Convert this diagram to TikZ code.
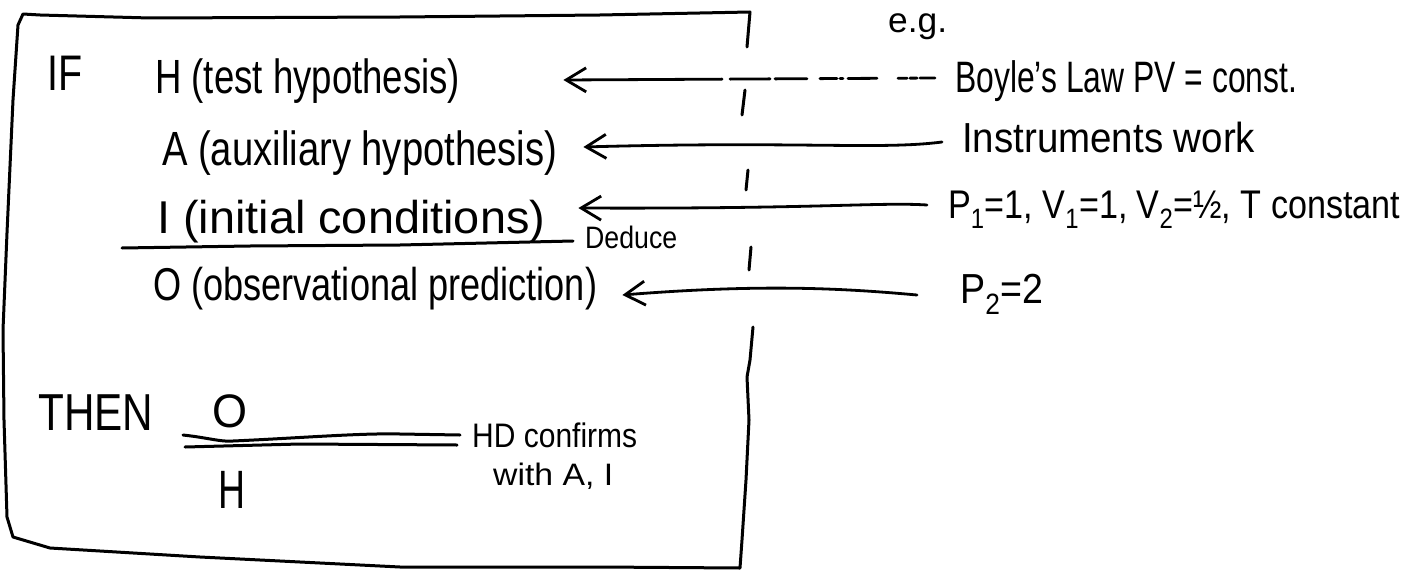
\documentclass[tikz,border=0pt]{standalone}
\usepackage{fontspec}
\setmainfont{Liberation Sans}
\usepackage{graphicx}
\usetikzlibrary{arrows.meta}
% squeeze or stretch a text to a given width, keeping its height
\newcommand\fitw[2]{\resizebox{#1pt}{\height}{#2}}
\newcommand\setsz[1]{\fontsize{#1}{#1}\selectfont}

\begin{document}
\begin{tikzpicture}[x=1pt,y=-1pt,line cap=round,line join=round,
  pen/.style={line width=3pt},
  txt/.style={inner sep=0pt,anchor=base west},
  arr/.style={line width=2.8pt,-{Straight Barb[length=20pt,width=24pt,line width=2.8pt]}}]
\useasboundingbox (0,0) rectangle (1412,578);

% frame round the schema
\draw[pen] (747,47) -- (750,12) -- (600,15) -- (400,17) -- (150,18) -- (40,15) -- (23,14)
  -- (18,25) -- (13,100) -- (7,233) -- (3,330) -- (4,420) -- (7,517) -- (13,537)
  -- (50,548) -- (200,557) -- (400,567) -- (600,567) -- (740,568) -- (742,540)
  -- (746,480) -- (749,420) -- (747,377) -- (750,360) -- (753,327);
\draw[pen] (745,90) -- (742,115);
\draw[pen] (748,170) -- (746,190);
\draw[pen] (751,247) -- (749,270);

% premises
\node[txt,font=\setsz{50}] (if)   at (47,90)  {\fitw{35}{IF}};
\node[txt,font=\setsz{48}] (hyp)  at (155,93) {\fitw{305}{H (test hypothesis)}};
\node[txt,font=\setsz{48}] (aux)  at (162,165) {\fitw{395}{A (auxiliary hypothesis)}};
\node[txt,font=\setsz{46}] (ini)  at (157,233) {\fitw{388}{I (initial conditions)}};
\draw[pen] (122,248) -- (250,246) -- (400,245) -- (573,241);
\node[txt,font=\setsz{31}] (ded)  at (585,248) {\fitw{92}{Deduce}};
\node[txt,font=\setsz{46}] (obs)  at (153,300) {\fitw{444}{O (observational prediction)}};

% conclusion
\node[txt,font=\setsz{52}] (then) at (38,430) {\fitw{115}{THEN}};
\node[inner sep=0pt,anchor=base,font=\setsz{47}] (num) at (230,427) {\fitw{35}{O}};
\node[inner sep=0pt,anchor=base,font=\setsz{54}] (den) at (232,508) {\fitw{27}{H}};
\draw[pen] (183,435) .. controls (210,438) and (220,442) .. (233,441)
  .. controls (300,438) and (360,433) .. (400,434) -- (460,435);
\draw[pen] (185,447) -- (300,444) -- (457,445);
\node[txt,font=\setsz{34}] (hdc)  at (472,447) {\fitw{165}{HD confirms}};
\node[txt,font=\setsz{31}] (wai)  at (493,485) {\fitw{120}{with A, I}};

% example
\node[txt,font=\setsz{35}] (eg)   at (888,32)  {\fitw{59}{e.g.}};
\node[txt,font=\setsz{44}] (boy)  at (955,92)  {\fitw{342}{Boyle's Law PV = const.}};
\node[txt,font=\setsz{42}] (ins)  at (962,152) {\fitw{293}{Instruments work}};
\node[txt,font=\setsz{40}] (pvt)  at (948,218) {\fitw{452}{P\textsubscript{1}=1, V\textsubscript{1}=1, V\textsubscript{2}=\textonehalf, T constant}};
\node[txt,font=\setsz{42}] (p2)   at (960,303) {\fitw{83}{P\textsubscript{2}=2}};

% links from the example to the schema
\draw[arr,dash pattern=on 15pt off 3pt on 7pt off 3pt on 9pt off 21pt on 29pt off 5pt on 3pt off 3pt on 17pt off 13pt on 32pt off 5pt on 40pt off 8pt on 400pt]
  ([shift={(-20,-14)}]boy.base west) -- ([shift={(103,-13)}]hyp.base east);
\draw[arr] ([shift={(-20,-10)}]ins.base west) .. controls (880,150) and (800,141)
  .. ([shift={(26,-18)}]aux.base east);
\draw[arr] ([shift={(-21,-13)}]pvt.base west) .. controls (880,202) and (820,209)
  .. ([shift={(33,-25)}]ini.base east);
\draw[arr] ([shift={(-43,-8)}]p2.base west) .. controls (840,288) and (760,284)
  .. ([shift={(25,-5)}]obs.base east);
\end{tikzpicture}
\end{document}
